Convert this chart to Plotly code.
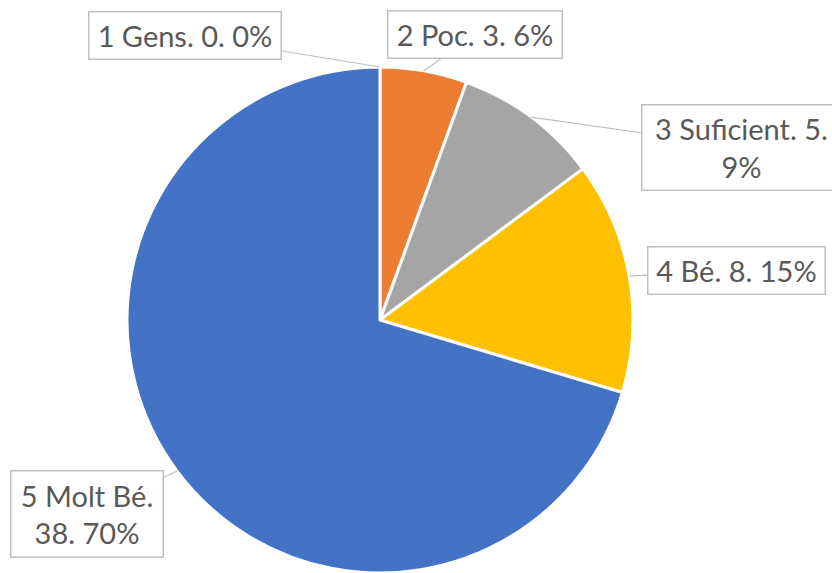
import math
import plotly.graph_objects as go

# ---- data ----
categories = ["1 Gens", "2 Poc", "3 Suficient", "4 Bé", "5 Molt Bé"]
values = [0, 3, 5, 8, 38]
label_texts = ["1 Gens. 0. 0%", "2 Poc. 3. 6%", "3 Suficient. 5.<br>9%",
               "4 Bé. 8. 15%", "5 Molt Bé.<br>38. 70%"]
colors = ["#5B9BD5", "#ED7D31", "#A5A5A5", "#FFC000", "#4472C4"]

# ---- layout geometry (pixels) ----
W, H = 832, 573
CX, CY, R = 380, 320, 253

# callout box centers / sizes (pixels)
box_cx = [184.5, 474.5, 741, 736, 86.5]
box_cy = [35, 35, 147, 270, 513.5]
box_w = [193, 175, 200, 178, 153]
box_h = [48, 48, 86, 48, 87]

fig = go.Figure(go.Pie(
    labels=categories, values=values, sort=False, direction="clockwise",
    rotation=0, textinfo="none", hoverinfo="label+value+percent",
    marker=dict(colors=colors, line=dict(color="white", width=3)),
    domain=dict(x=[(CX - R) / W, (CX + R) / W], y=[1 - (CY + R) / H, 1 - (CY - R) / H]),
    showlegend=False,
))

total = sum(values)
cum = 0
annotations = []
for i, v in enumerate(values):
    mid = (cum + v / 2) / total * 2 * math.pi
    cum += v
    px = CX + R * math.sin(mid)
    py = CY - R * math.cos(mid)
    annotations.append(dict(
        x=px / W, y=1 - py / H, xref="paper", yref="paper",
        ax=box_cx[i] - px, ay=box_cy[i] - py, axref="pixel", ayref="pixel",
        text=label_texts[i], showarrow=True, arrowhead=0, arrowwidth=1.2,
        arrowcolor="#BFBFBF", standoff=0,
        width=box_w[i] - 4, height=box_h[i] - 4, align="center", valign="middle",
        bordercolor="#BFBFBF", borderwidth=1.5, borderpad=1, bgcolor="white",
        font=dict(family="Lato", size=29, color="#595959"),
    ))

fig.update_layout(
    width=W, height=H, margin=dict(l=0, r=0, t=0, b=0),
    paper_bgcolor="white", plot_bgcolor="white",
    annotations=annotations,
)
fig.write_html("out.html", config={"displayModeBar": False},
               post_script="document.body.style.margin='0px';document.body.style.overflow='hidden';")
